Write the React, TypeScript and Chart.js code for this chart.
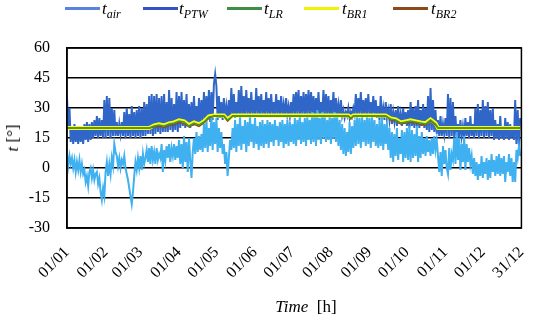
import React, { useEffect, useRef } from "react";
import { Chart, registerables } from "chart.js";

Chart.register(...registerables);

// sampling interval (days) for t_air and t_PTW series
const DAY_STEP = 1;

const MONTH_DAYS = [0, 31, 59, 90, 120, 151, 181, 212, 243, 273, 304, 334, 365];
const MONTH_LABELS = ["01/01", "01/02", "01/03", "01/04", "01/05", "01/06", "01/07", "01/08", "01/09", "01/10", "01/11", "01/12", "31/12"];

const Y_MIN = -30;
const Y_MAX = 60;
const Y_STEP = 15;

const T_PTW = [
  35, 20, 30, 13, 21, 12, 22, 13, 20, 12,
  21, 13, 20, 12, 22, 14, 23, 13, 22, 14,
  23, 15, 24, 16, 26, 15, 25, 16, 24, 15,
  34, 15, 36, 16, 35, 15, 30, 16, 29, 16,
  23, 16, 22, 17, 23, 16, 28, 15, 30, 16,
  27, 15, 31, 16, 28, 15, 29, 16, 31, 15,
  30, 16, 33, 16, 32, 17, 36, 17, 37, 16,
  36, 17, 37, 18, 35, 17, 36, 18, 37, 18,
  33, 18, 39, 19, 35, 18, 32, 19, 38, 18,
  36, 20, 38, 21, 34, 20, 37, 21, 32, 20,
  33, 21, 36, 22, 31, 21, 35, 22, 34, 23,
  38, 23, 36, 24, 39, 23, 38, 24, 42, 47,
  41, 24, 36, 25, 33, 24, 35, 25, 31, 25,
  34, 25, 40, 26, 37, 25, 33, 26, 39, 25,
  41, 26, 36, 26, 39, 27, 35, 26, 38, 27,
  34, 26, 40, 27, 36, 26, 37, 27, 34, 26,
  38, 27, 35, 26, 37, 27, 33, 26, 37, 27,
  34, 26, 36, 27, 32, 26, 35, 27, 31, 26,
  33, 27, 37, 26, 38, 27, 39, 26, 36, 27,
  38, 26, 37, 27, 39, 26, 38, 27, 36, 26,
  35, 27, 38, 26, 33, 27, 39, 26, 37, 27,
  36, 26, 34, 27, 38, 26, 35, 27, 32, 26,
  34, 26, 29, 25, 28, 26, 30, 25, 28, 26,
  30, 27, 37, 26, 35, 27, 38, 26, 34, 27,
  35, 26, 37, 27, 33, 26, 36, 27, 34, 25,
  31, 24, 36, 25, 30, 24, 33, 25, 29, 24,
  32, 22, 28, 23, 29, 21, 31, 22, 27, 21,
  30, 22, 28, 21, 29, 20, 33, 21, 30, 20,
  31, 21, 34, 20, 29, 21, 32, 20, 30, 19,
  36, 18, 40, 19, 34, 18, 29, 17, 24, 16,
  26, 16, 22, 17, 25, 16, 37, 15, 35, 16,
  33, 15, 26, 16, 22, 15, 24, 16, 21, 15,
  25, 16, 23, 15, 26, 16, 22, 15, 30, 16,
  32, 15, 29, 16, 34, 15, 31, 16, 33, 15,
  29, 16, 30, 14, 24, 15, 22, 14, 26, 15,
  21, 14, 25, 15, 23, 14, 22, 15, 21, 14,
  34, 12, 29, 11, 25,
];

const T_AIR = [
  7, 1, 6, 2, 5, 0, 4, -2, 3, -1,
  4, -2, 2, -3, -1, -7, -4, -9, -2, 0,
  -5, -1, -6, -3, -2, -8, -5, -12, -16, -10,
  -14, -2, 3, -4, 2, -3, 5, 1, 12, 8,
  6, 1, 5, 0, 4, 2, 6, 0, -3, -6,
  -10, -14, -18, -12, -4, 3, -1, 5, 0, 6,
  -1, 7, 2, 5, 9, 3, 10, 2, 11, 4,
  8, 2, 10, 4, 7, 5, 12, -2, 9, 4,
  11, 5, 12, 3, 10, 6, 12, 4, 11, 5,
  14, 2, 12, 0, 16, 3, 13, -2, 15, 4,
  -5, 8, 15, 7, 18, 8, 16, 9, 17, 8,
  22, 10, 25, 8, 20, 11, 27, 9, 23, 12,
  25, 8, 20, 10, 18, 7, 12, 2, 8, -4,
  5, 14, 9, 20, 10, 24, 8, 22, 11, 26,
  9, 21, 12, 24, 8, 23, 11, 26, 13, 22,
  10, 25, 12, 21, 9, 23, 11, 24, 10, 22,
  12, 24, 10, 23, 13, 22, 11, 24, 14, 21,
  11, 23, 13, 24, 10, 22, 12, 24, 11, 23,
  13, 22, 12, 25, 11, 24, 14, 26, 12, 23,
  13, 25, 11, 26, 14, 24, 12, 28, 13, 27,
  11, 29, 14, 25, 12, 28, 15, 26, 13, 24,
  14, 27, 12, 25, 15, 28, 13, 26, 11, 24,
  9, 22, 7, 20, 6, 18, 8, 23, 7, 21,
  10, 24, 11, 27, 12, 25, 10, 26, 13, 24,
  11, 27, 12, 25, 10, 26, 13, 24, 11, 22,
  10, 24, 11, 25, 9, 22, 12, 23, 9, 20,
  5, 18, 3, 17, 6, 20, 4, 15, 7, 19,
  3, 18, 5, 20, 4, 21, 3, 19, 5, 17,
  6, 21, 3, 16, 5, 18, 7, 15, 6, 16,
  8, 14, 6, 15, 7, 16, 9, 14, 6, -2,
  8, -4, 11, 2, 9, 0, -3, 10, -1, 7,
  4, 15, 2, 18, 4, 15, -1, 12, 3, 16,
  -1, 12, 3, 10, 2, 6, -3, 5, -4, 3,
  -6, 2, -4, 6, -5, 3, -3, 5, -6, 4,
  -5, 7, -2, 4, -4, 6, -3, 7, -4, 5,
  -3, 6, -7, 3, -2, 7, -4, 5, -7, 3,
  -7, 9, 5, 11, 6,
];

// smooth series: day of year and value
const LR_DAYS = [0, 66, 70, 74, 78, 82, 86, 90, 94, 98, 102, 106, 110, 114, 118, 126, 129, 133, 226, 228, 230, 256, 260, 264, 268, 272, 276, 280, 284, 288, 292, 296, 298, 364];
const T_LR = [20, 20, 21, 21.5, 21, 22, 22.5, 23.5, 23, 21, 22.5, 21.5, 23, 25.5, 26, 26, 24, 26, 26, 25, 26, 26, 24.5, 24, 22.5, 23, 23.5, 23, 22.5, 22, 24, 22, 20, 20];
const T_BR1 = [20, 20, 21.3, 21.8, 21.3, 22.3, 22.8, 23.8, 23.3, 21.5, 22.8, 21.8, 23.3, 25.8, 26.2, 26.2, 24.3, 26.2, 26.2, 25.3, 26.2, 26.2, 24.8, 24.3, 22.8, 23.3, 23.8, 23.3, 22.8, 22.4, 24.2, 22.3, 20, 20];
const T_BR2 = [20, 20, 20.5, 21, 20.3, 21.5, 21.8, 23, 22.2, 20.5, 21.8, 20.8, 22.5, 25, 26, 26, 23.5, 26, 26, 24.5, 26, 26, 24, 23.5, 22, 22.5, 23, 22.5, 21.8, 21.5, 23.5, 21.5, 20, 20];

const COLORS = {
  air: "#3fb0f0",
  ptw: "#2f66c8",
  lr: "#3b9a3b",
  br1: "#ffff00",
  br2: "#8f4a14",
};

const SERIF = "'Liberation Serif', 'Times New Roman', serif";

const LEGEND = [
  { color: "#5b82e2", sub: "air", lineX: 65, textX: 102 },
  { color: "#3453c4", sub: "PTW", lineX: 143, textX: 179 },
  { color: "#3e8e45", sub: "LR", lineX: 227, textX: 264 },
  { color: "#f2f200", sub: "BR1", lineX: 304, textX: 342 },
  { color: "#8c4a1a", sub: "BR2", lineX: 393, textX: 431 },
];

const boxPlugin = {
  id: "boxPlugin",
  afterDraw(chart: any) {
    const { ctx, chartArea } = chart;
    ctx.save();
    ctx.strokeStyle = "#000";
    ctx.lineWidth = 1.5;
    ctx.strokeRect(chartArea.left, chartArea.top, chartArea.right - chartArea.left, chartArea.bottom - chartArea.top);
    ctx.restore();
  },
};

export default function App() {
  const ref = useRef<HTMLCanvasElement>(null);

  useEffect(() => {
    if (!ref.current) return;
    const step = (arr: number[]) => arr.map((v, i) => ({ x: i * DAY_STEP, y: v }));
    const byDay = (arr: number[]) => arr.map((v, i) => ({ x: LR_DAYS[i], y: v }));
    const chart = new Chart(ref.current, {
      type: "line",
      data: {
        datasets: [
          { label: "t_air", data: step(T_AIR), borderColor: COLORS.air, borderWidth: 2, pointRadius: 0, order: 5 },
          { label: "t_PTW", data: step(T_PTW), borderColor: COLORS.ptw, borderWidth: 2, pointRadius: 0, order: 6 },
          { label: "t_LR", data: byDay(T_LR), borderColor: COLORS.lr, borderWidth: 1.5, pointRadius: 0, order: 1 },
          { label: "t_BR1", data: byDay(T_BR1), borderColor: COLORS.br1, borderWidth: 4, pointRadius: 0, order: 3 },
          { label: "t_BR2", data: byDay(T_BR2), borderColor: COLORS.br2, borderWidth: 1.5, pointRadius: 0, order: 2 },
        ],
      },
      options: {
        animation: false,
        responsive: false,
        events: [],
        layout: { padding: { top: 48, right: 8, left: 0, bottom: 0 } },
        plugins: { legend: { display: false }, tooltip: { enabled: false } },
        scales: {
          x: {
            type: "linear",
            min: 0,
            max: 365,
            grid: { display: false, drawTicks: false },
            border: { display: true, color: "#000", width: 1.5 },
            afterBuildTicks: (axis: any) => {
              axis.ticks = MONTH_DAYS.map((v) => ({ value: v }));
            },
            afterFit: (axis: any) => {
              axis.height = 92;
            },
            ticks: {
              autoSkip: false,
              maxRotation: 45,
              minRotation: 45,
              padding: 15,
              color: "#000",
              font: { family: SERIF, size: 16 },
              callback: (_v: any, i: number) => MONTH_LABELS[i],
            },
          },
          y: {
            min: Y_MIN,
            max: Y_MAX,
            grid: { color: "#000", lineWidth: 1.5, drawTicks: false },
            border: { display: true, color: "#000", width: 1.5 },
            afterFit: (axis: any) => {
              axis.width = 67;
            },
            ticks: {
              stepSize: Y_STEP,
              padding: 17,
              color: "#000",
              font: { family: SERIF, size: 16 },
            },
          },
        },
      },
      plugins: [boxPlugin],
    });
    return () => chart.destroy();
  }, []);

  return (
    <div style={{ position: "fixed", left: 0, top: 0, width: 550, height: 320, background: "#fff", fontFamily: SERIF, color: "#000" }}>
      <canvas ref={ref} width={550} height={320} style={{ width: 550, height: 320, display: "block" }} />
      {LEGEND.map((l) => (
        <React.Fragment key={l.sub}>
          <div style={{ position: "absolute", left: l.lineX, top: 7, width: 35, height: 3, background: l.color }} />
          <div style={{ position: "absolute", left: l.textX, top: -2, fontSize: 17, fontStyle: "italic", whiteSpace: "nowrap", lineHeight: "22px" }}>
            t<sub style={{ fontSize: 12, verticalAlign: "-4px", lineHeight: 0 }}>{l.sub}</sub>
          </div>
        </React.Fragment>
      ))}
      <div style={{ position: "absolute", left: 13, top: 138, transform: "translate(-50%, -50%) rotate(-90deg)", fontSize: 17, whiteSpace: "nowrap" }}>
        <i>t</i> [°]
      </div>
      <div style={{ position: "absolute", left: 306, top: 307, transform: "translate(-50%, -50%)", fontSize: 17, whiteSpace: "nowrap" }}>
        <i>Time</i>&nbsp; [h]
      </div>
    </div>
  );
}
